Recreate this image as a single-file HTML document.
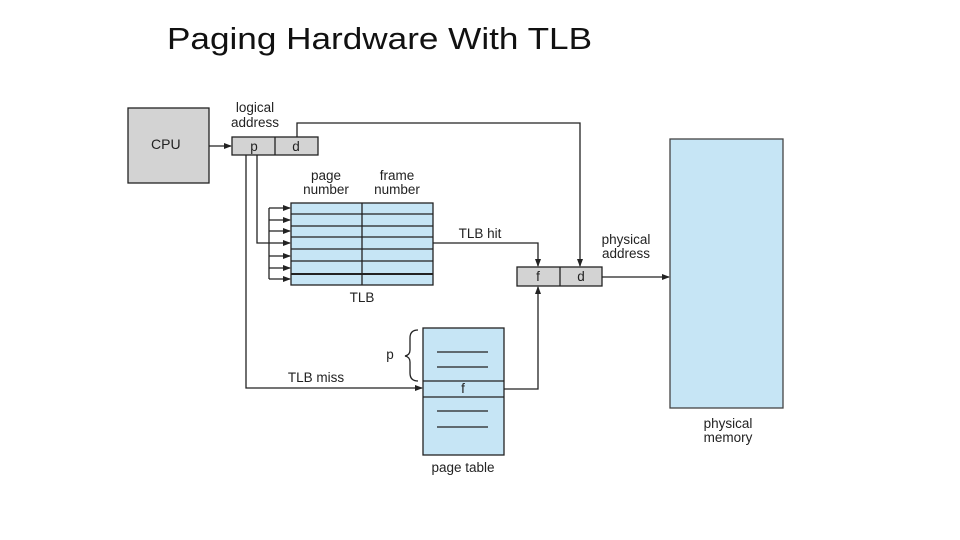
<!DOCTYPE html>
<html><head><meta charset="utf-8"><style>
html,body{margin:0;padding:0;background:#fff;}
svg{display:block;}
text{font-family:"Liberation Sans",Arial,sans-serif;fill:#222;}
</style></head><body>
<svg width="960" height="540" viewBox="0 0 960 540" xmlns="http://www.w3.org/2000/svg">
<defs>
<marker id="a" markerWidth="8" markerHeight="8" refX="7" refY="4" orient="auto" markerUnits="userSpaceOnUse">
<path d="M0,1 L8,4 L0,7 Z" fill="#222"/></marker>
</defs>
<text x="167" y="49" font-size="31" textLength="425" lengthAdjust="spacingAndGlyphs" style="fill:#111">Paging Hardware With TLB</text>

<g stroke="#222" stroke-width="1.3" fill="none">
<!-- CPU -->
<rect x="128" y="108" width="81" height="75" fill="#d3d3d3"/>
<line x1="209" y1="146" x2="231" y2="146" marker-end="url(#a)"/>
<!-- p|d -->
<rect x="232" y="137" width="86" height="18" fill="#d3d3d3"/>
<line x1="275" y1="137" x2="275" y2="155"/>
<!-- d line -->
<polyline points="297,137 297,123 580,123 580,266" marker-end="url(#a)"/>
<!-- p to TLB -->
<polyline points="257,155 257,243 269,243"/>
<line x1="269" y1="208" x2="269" y2="279"/>
<line x1="269" y1="208" x2="290" y2="208" marker-end="url(#a)"/>
<line x1="269" y1="220" x2="290" y2="220" marker-end="url(#a)"/>
<line x1="269" y1="231" x2="290" y2="231" marker-end="url(#a)"/>
<line x1="269" y1="243" x2="290" y2="243" marker-end="url(#a)"/>
<line x1="269" y1="256" x2="290" y2="256" marker-end="url(#a)"/>
<line x1="269" y1="268" x2="290" y2="268" marker-end="url(#a)"/>
<line x1="269" y1="279" x2="290" y2="279" marker-end="url(#a)"/>
<!-- TLB miss -->
<polyline points="246,155 246,388 422,388" marker-end="url(#a)"/>
<!-- TLB table -->
<rect x="291" y="203" width="142" height="82" fill="#c6e5f5"/>
<line x1="362" y1="203" x2="362" y2="285"/>
<line x1="291" y1="214" x2="433" y2="214"/>
<line x1="291" y1="226" x2="433" y2="226"/>
<line x1="291" y1="237" x2="433" y2="237"/>
<line x1="291" y1="249" x2="433" y2="249"/>
<line x1="291" y1="261" x2="433" y2="261"/>
<line x1="291" y1="274" x2="433" y2="274" stroke-width="2"/>
<!-- TLB hit -->
<polyline points="433,243 538,243 538,266" marker-end="url(#a)"/>
<!-- f|d -->
<rect x="517" y="267" width="85" height="19" fill="#d3d3d3"/>
<line x1="560" y1="267" x2="560" y2="286"/>
<line x1="602" y1="277" x2="669" y2="277" marker-end="url(#a)"/>
<!-- page table to f -->
<polyline points="504,389 538,389 538,287" marker-end="url(#a)"/>
<!-- page table -->
<rect x="423" y="328" width="81" height="127" fill="#c6e5f5"/>
<line x1="423" y1="381" x2="504" y2="381"/>
<line x1="423" y1="397" x2="504" y2="397"/>
<line x1="437" y1="352" x2="488" y2="352"/>
<line x1="437" y1="367" x2="488" y2="367"/>
<line x1="437" y1="411" x2="488" y2="411"/>
<line x1="437" y1="427" x2="488" y2="427"/>
<path d="M418,330 Q410,330 410,338 L410,350 Q410,355 405,356 Q410,357 410,362 L410,373 Q410,381 418,381"/>
<!-- physical memory -->
<rect x="670" y="139" width="113" height="269" fill="#c6e5f5" stroke="#444"/>
</g>

<g font-size="13.5">
<text x="151" y="149" font-size="14">CPU</text>
<text x="255" y="112" text-anchor="middle">logical</text>
<text x="255" y="127" text-anchor="middle">address</text>
<text x="254" y="151" text-anchor="middle">p</text>
<text x="296" y="151" text-anchor="middle">d</text>
<text x="326" y="180" text-anchor="middle">page</text>
<text x="326" y="194" text-anchor="middle">number</text>
<text x="397" y="180" text-anchor="middle">frame</text>
<text x="397" y="194" text-anchor="middle">number</text>
<text x="362" y="302" text-anchor="middle">TLB</text>
<text x="480" y="238" text-anchor="middle">TLB hit</text>
<text x="626" y="244" text-anchor="middle">physical</text>
<text x="626" y="258" text-anchor="middle">address</text>
<text x="538" y="281" text-anchor="middle">f</text>
<text x="581" y="281" text-anchor="middle">d</text>
<text x="390" y="359" text-anchor="middle">p</text>
<text x="316" y="382" text-anchor="middle">TLB miss</text>
<text x="463" y="393" text-anchor="middle">f</text>
<text x="463" y="472" text-anchor="middle">page table</text>
<text x="728" y="428" text-anchor="middle">physical</text>
<text x="728" y="442" text-anchor="middle">memory</text>
</g>
</svg>
</body></html>
